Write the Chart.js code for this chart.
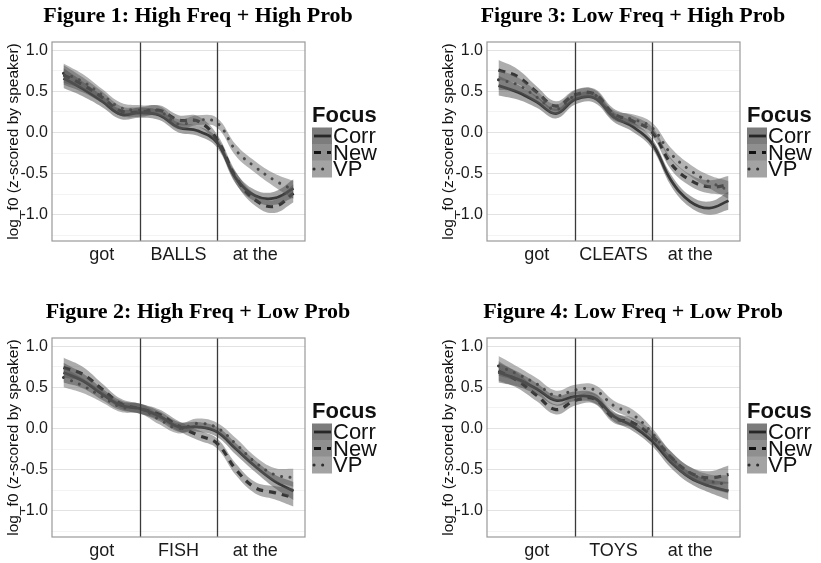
<!DOCTYPE html>
<html>
<head>
<meta charset="utf-8">
<title>log f0 contours by focus</title>
<script src="https://cdn.jsdelivr.net/npm/chart.js@4.4.1/dist/chart.umd.min.js"></script>
<style>
  body { margin: 0; background: #fff; width: 821px; height: 563px; position: relative; overflow: hidden; }
  canvas { position: absolute; }
</style>
</head>
<body>
<canvas id="fig1" width="396" height="267" style="left:0;top:0"></canvas>
<canvas id="fig3" width="396" height="267" style="left:435px;top:0"></canvas>
<canvas id="fig2" width="396" height="267" style="left:0;top:296px"></canvas>
<canvas id="fig4" width="396" height="267" style="left:435px;top:296px"></canvas>
<script>
// normalised time across the three words
const timePts = [0, 0.25, 0.5, 0.75, 1, 1.25, 1.5, 1.75, 2, 2.25, 2.5, 2.75, 3];
const ciHalf = [0.12, 0.09, 0.07, 0.06, 0.06, 0.06, 0.06, 0.06, 0.06, 0.07, 0.07, 0.08, 0.11];
const wordBounds = [1, 2];
const wordCenters = [0.5, 1.5, 2.5];
const yMajor = [-1.0, -0.5, 0.0, 0.5, 1.0];
const yMinor = [-1.25, -0.75, -0.25, 0.25, 0.75];
const focusLevels = ['Corr', 'New', 'VP'];

// Figure 1: High Freq + High Prob
const fig1Words = ['got', 'BALLS', 'at the'];
const fig1Corr = [0.66, 0.53, 0.38, 0.22, 0.24, 0.21, 0.06, 0.02, -0.12, -0.56, -0.77, -0.80, -0.68];
const fig1New  = [0.70, 0.58, 0.43, 0.26, 0.25, 0.27, 0.15, 0.14, -0.08, -0.55, -0.82, -0.90, -0.74];
const fig1VP   = [0.72, 0.62, 0.46, 0.30, 0.27, 0.26, 0.10, 0.15, 0.12, -0.22, -0.42, -0.58, -0.70];

// Figure 2: High Freq + Low Prob
const fig2Words = ['got', 'FISH', 'at the'];
const fig2Corr = [0.68, 0.58, 0.42, 0.28, 0.24, 0.15, 0.02, 0.02, -0.04, -0.25, -0.46, -0.64, -0.76];
const fig2New  = [0.74, 0.66, 0.48, 0.30, 0.24, 0.17, 0.03, -0.08, -0.18, -0.50, -0.72, -0.78, -0.84];
const fig2VP   = [0.62, 0.52, 0.39, 0.26, 0.24, 0.11, 0.00, 0.06, 0.01, -0.19, -0.41, -0.56, -0.60];

// Figure 3: Low Freq + High Prob
const fig3Words = ['got', 'CLEATS', 'at the'];
const fig3Corr = [0.57, 0.49, 0.37, 0.23, 0.40, 0.42, 0.19, 0.07, -0.13, -0.58, -0.84, -0.92, -0.83];
const fig3New  = [0.76, 0.68, 0.49, 0.32, 0.46, 0.47, 0.23, 0.14, 0.01, -0.38, -0.58, -0.66, -0.64];
const fig3VP   = [0.64, 0.58, 0.43, 0.28, 0.45, 0.46, 0.21, 0.16, 0.06, -0.26, -0.46, -0.60, -0.70];

// Figure 4: Low Freq + Low Prob
const fig4Words = ['got', 'TOYS', 'at the'];
const fig4Corr = [0.68, 0.60, 0.48, 0.34, 0.39, 0.37, 0.15, 0.03, -0.15, -0.41, -0.60, -0.70, -0.76];
const fig4New  = [0.70, 0.58, 0.40, 0.23, 0.34, 0.36, 0.13, 0.07, -0.09, -0.35, -0.54, -0.60, -0.56];
const fig4VP   = [0.76, 0.66, 0.54, 0.40, 0.47, 0.47, 0.28, 0.17, -0.05, -0.35, -0.54, -0.64, -0.68];

// styles
const lineStyle = {
  Corr: { color: '#262626', width: 2.8, dash: [], cap: 'butt' },
  New:  { color: '#111111', width: 3.2, dash: [7, 6], cap: 'butt' },
  VP:   { color: '#2e2e2e', width: 3, dash: [0.1, 8.5], cap: 'round' }
};
const ribbonFill = { Corr: 'rgba(75,75,75,0.5)', New: 'rgba(90,90,90,0.5)', VP: 'rgba(105,105,105,0.5)' };
const legendFill = { Corr: '#7c7c7c', New: '#8f8f8f', VP: '#a3a3a3' };
const sans = '"Liberation Sans", Arial, sans-serif';

function pts(vals, off) {
  return timePts.map((t, i) => ({ x: t, y: vals[i] + off * ciHalf[i] }));
}
function isMajor(v) {
  return yMajor.some(m => Math.abs(m - v) < 1e-6);
}

function buildDatasets(series) {
  const ds = [];
  focusLevels.forEach(f => {
    ds.push({ data: pts(series[f], -1), borderWidth: 0, pointRadius: 0, tension: 0.4, fill: false });
    ds.push({ data: pts(series[f], 1), borderWidth: 0, pointRadius: 0, tension: 0.4, fill: '-1', backgroundColor: ribbonFill[f] });
  });
  focusLevels.forEach(f => {
    const s = lineStyle[f];
    ds.push({ label: f, data: pts(series[f], 0), borderColor: s.color, borderWidth: s.width,
      borderDash: s.dash, borderCapStyle: s.cap, pointRadius: 0, tension: 0.4, fill: false });
  });
  return ds;
}

// word boundaries, panel frame and the Focus legend
const panelDecor = {
  id: 'panelDecor',
  afterDatasetsDraw(chart) {
    const { ctx, chartArea: a, scales: { x } } = chart;
    ctx.save();
    ctx.strokeStyle = '#3a3a3a';
    ctx.lineWidth = 1.3;
    wordBounds.forEach(b => {
      const px = Math.round(x.getPixelForValue(b)) + 0.5;
      ctx.beginPath(); ctx.moveTo(px, a.top); ctx.lineTo(px, a.bottom); ctx.stroke();
    });
    ctx.strokeStyle = '#999';
    ctx.lineWidth = 1.2;
    ctx.strokeRect(a.left, a.top, a.right - a.left, a.bottom - a.top);
    ctx.restore();
  },
  afterDraw(chart) {
    const { ctx, chartArea: a } = chart;
    const lx = a.right + 7;
    ctx.save();
    ctx.textBaseline = 'middle';
    ctx.fillStyle = '#111';
    ctx.font = 'bold 22px ' + sans;
    ctx.fillText('Focus', lx, a.top + 74);
    focusLevels.forEach((f, i) => {
      const cy = a.top + 94 + i * 16.5;
      const s = lineStyle[f];
      ctx.fillStyle = legendFill[f];
      ctx.fillRect(lx, cy - 8.5, 20, 17);
      ctx.strokeStyle = s.color;
      ctx.lineWidth = s.width;
      ctx.setLineDash(s.dash);
      ctx.lineCap = s.cap;
      ctx.beginPath(); ctx.moveTo(lx + 2, cy); ctx.lineTo(lx + 19, cy); ctx.stroke();
      ctx.setLineDash([]);
      ctx.fillStyle = '#111';
      ctx.font = '22px ' + sans;
      ctx.fillText(f, lx + 21, cy + 1);
    });
    ctx.restore();
  }
};

function makePanel(id, title, words, series) {
  new Chart(document.getElementById(id), {
    type: 'line',
    data: { datasets: buildDatasets(series) },
    plugins: [panelDecor],
    options: {
      responsive: false,
      animation: false,
      layout: { padding: 0 },
      plugins: {
        legend: { display: false },
        tooltip: { enabled: false },
        title: {
          display: true, text: title, color: '#000',
          font: { family: '"Liberation Serif", "Times New Roman", serif', size: 22, weight: 'bold' },
          padding: { top: 3, bottom: 12.6 }
        }
      },
      scales: {
        x: {
          type: 'linear', min: -0.15, max: 3.15,
          afterBuildTicks: s => { s.ticks = wordCenters.map(v => ({ value: v })); },
          afterFit: s => { s.height = 26; },
          grid: { display: false, drawTicks: false }, border: { display: false },
          ticks: { padding: 3, autoSkip: false, maxRotation: 0, color: '#1a1a1a',
            font: { family: sans, size: 18 },
            callback: v => words[wordCenters.indexOf(v)] }
        },
        y: {
          min: -1.32, max: 1.1,
          afterBuildTicks: s => {
            s.ticks = yMajor.concat(yMinor).sort((p, q) => p - q).map(v => ({ value: v }));
          },
          afterFit: s => { s.width = 52; },
          border: { display: false },
          grid: { drawTicks: false,
            color: c => (c.tick && isMajor(c.tick.value)) ? '#e2e2e2' : '#f3f3f3' },
          ticks: { padding: 4, color: '#1a1a1a', autoSkip: false,
            font: { family: sans, size: 16 },
            callback: v => isMajor(v) ? v.toFixed(1) : '' },
          title: { display: true, text: 'log_f0 (z-scored by speaker)', color: '#111',
            font: { family: sans, size: 15.5 }, padding: { top: 4, bottom: 0 } }
        },
        yR: {
          position: 'right', display: true,
          afterFit: s => { s.width = 91; },
          grid: { display: false }, border: { display: false },
          ticks: { display: false }
        }
      }
    }
  });
}

makePanel('fig1', 'Figure 1: High Freq + High Prob', fig1Words, { Corr: fig1Corr, New: fig1New, VP: fig1VP });
makePanel('fig3', 'Figure 3: Low Freq + High Prob', fig3Words, { Corr: fig3Corr, New: fig3New, VP: fig3VP });
makePanel('fig2', 'Figure 2: High Freq + Low Prob', fig2Words, { Corr: fig2Corr, New: fig2New, VP: fig2VP });
makePanel('fig4', 'Figure 4: Low Freq + Low Prob', fig4Words, { Corr: fig4Corr, New: fig4New, VP: fig4VP });
</script>
</body>
</html>
